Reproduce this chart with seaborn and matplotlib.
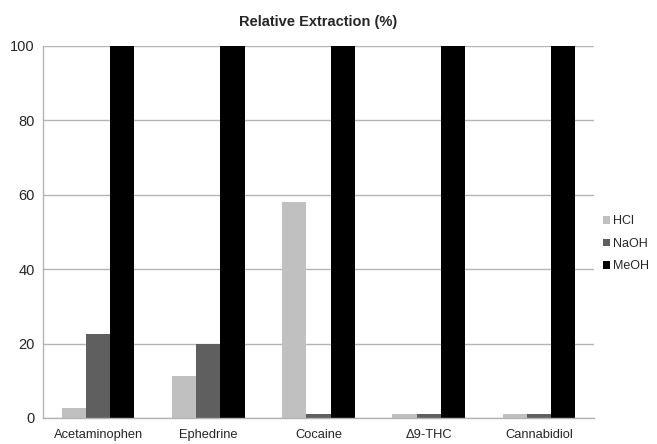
import pandas as pd
import matplotlib
matplotlib.use("Agg")
import matplotlib.pyplot as plt
import seaborn as sns

################################################################################
# Data
################################################################################
compounds = ["Acetaminophen", "Ephedrine", "Cocaine", "\u03949-THC", "Cannabidiol"]
hcl = [2.7, 11.3, 58, 1, 1]
naoh = [22.5, 20, 1, 1, 1]
meoh = [100, 100, 100, 100, 100]
solvents = ["HCl", "NaOH", "MeOH"]

df = pd.DataFrame({"compound": compounds * 3,
                   "solvent": [s for s in solvents for _ in compounds],
                   "value": hcl + naoh + meoh})

################################################################################
# Plot
################################################################################
sns.set_style("white")
plt.rcParams['font.family'] = ['Liberation Sans', 'DejaVu Sans']

fig = plt.figure(figsize=(6.57, 4.44), dpi=100)
ax = fig.add_axes([0.0654, 0.0586, 0.8387, 0.838])

palette = {"HCl": "#c0c0c0", "NaOH": "#5f5f5f", "MeOH": "#000000"}
sns.barplot(data=df, x="compound", y="value", hue="solvent", palette=palette,
            width=0.66, saturation=1, ax=ax, edgecolor="none")

ax.set_ylim(0, 100)
ax.set_yticks([0, 20, 40, 60, 80, 100])
ax.yaxis.grid(True, color="#b4b4b4", linewidth=1)
ax.set_axisbelow(True)
ax.set_xlim(-0.5, 4.5)
ax.set_xlabel("")
ax.set_ylabel("")
ax.set_title("Relative Extraction (%)", fontsize=10.5, fontweight="bold", pad=14)
for s in ["top", "right"]:
    ax.spines[s].set_visible(False)
for s in ["left", "bottom"]:
    ax.spines[s].set_color("#b4b4b4")
    ax.spines[s].set_linewidth(1)
ax.tick_params(axis="y", labelsize=10.5, length=0, pad=6)
ax.tick_params(axis="x", labelsize=9.3, length=0, pad=8)

leg = ax.legend(loc="center left", bbox_to_anchor=(1.0, 0.468), frameon=False,
                fontsize=9, handlelength=0.55, handleheight=0.55,
                handletextpad=0.25, labelspacing=0.85, borderpad=0.2)

fig.savefig("out.png", dpi=100)
